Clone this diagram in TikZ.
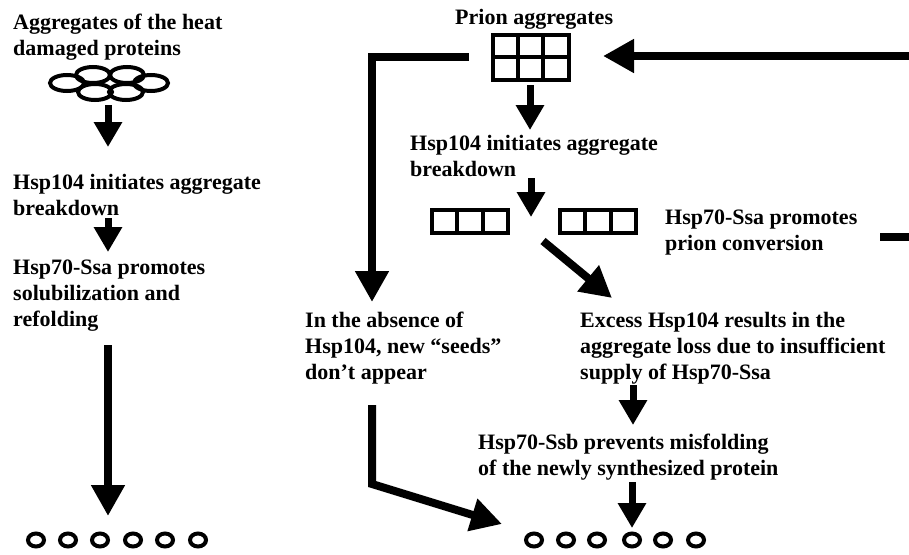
\documentclass[tikz,border=0pt]{standalone}
\usepackage{fontspec}
\setmainfont{Liberation Serif}
\usetikzlibrary{arrows.meta}

\begin{document}
\begin{tikzpicture}[x=1pt, y=-1pt,
    lbl/.style={anchor=north west, inner sep=0pt, align=left,
      font=\fontsize{22}{26}\selectfont\bfseries},
    flow/.style={-{Triangle[width=27pt,length=25pt]}, line width=7pt},
    bigflow/.style={-{Triangle[width=32pt,length=31pt]}, line width=8pt},
    part/.style={line width=4pt}]
    \useasboundingbox (0,0) rectangle (909,554);

    % left column: heat damaged proteins
    \node[lbl] (heatagg) at (13,14) {Aggregates of the heat\\damaged proteins};
    \node[lbl] (hsp104a) at (13,174) {Hsp104 initiates aggregate\\breakdown};
    \node[lbl] (ssafold) at (13,260) {Hsp70-Ssa promotes\\solubilization and\\refolding};

    \foreach \x/\y in {67/83, 93/75, 127/75, 151/83, 95/92, 126/92}
        \draw[part] (\x,\y) ellipse (17 and 8);
    \foreach \x in {36,68,100,133,165,198}
        \draw[part] (\x,540) ellipse (8 and 6.5);

    \coordinate (a1) at (108,105);  \coordinate (a2) at (108,147);
    \coordinate (b1) at (108,218);  \coordinate (b2) at (108,252);
    \coordinate (c1) at (108,345);  \coordinate (c2) at (108,516);
    \draw[flow] (a1) -- (a2);
    \draw[flow] (b1) -- (b2);
    \draw[bigflow] (c1) -- (c2);

    % right part: prion aggregates
    \node[lbl] (prionagg) at (455,9) {Prion aggregates};
    \node[lbl] (hsp104b) at (410,135) {Hsp104 initiates aggregate\\breakdown};
    \node[lbl] (ssaconv) at (665,210) {Hsp70-Ssa promotes\\prion conversion};
    \node[lbl] (noseeds) at (305,312) {In the absence of\\Hsp104, new ``seeds''\\don't appear};
    \node[lbl] (excess) at (580,312) {Excess Hsp104 results in the\\aggregate loss due to insufficient\\supply of Hsp70-Ssa};
    \node[lbl] (ssbfold) at (478,434) {Hsp70-Ssb prevents misfolding\\of the newly synthesized protein};

    % prion grid and fragments
    \draw[part] (493,35) rectangle (569,80);
    \draw[part] (518,35) -- (518,80) (543,35) -- (543,80) (493,57) -- (569,57);
    \foreach \x in {432,560} {
        \draw[part] (\x,210) rectangle (\x+76,233);
        \draw[part] (\x+25,210) -- (\x+25,233) (\x+51,210) -- (\x+51,233);
    }
    \foreach \x in {534,566,597,632,663,696}
        \draw[part] (\x,540) ellipse (8 and 6.5);

    \coordinate (d1) at (530,85);   \coordinate (d2) at (530,130);
    \coordinate (e1) at (531,178);  \coordinate (e2) at (531,217);
    \coordinate (f1) at (543,241);  \coordinate (f2) at (612,298);
    \coordinate (g1) at (633,385);  \coordinate (g2) at (633,425);
    \coordinate (h1) at (632,482);  \coordinate (h2) at (632,528);
    \coordinate (lstart) at (469,57);  \coordinate (lcorner) at (372,57);
    \coordinate (ltip) at (372,302);
    \coordinate (m1) at (372,405);  \coordinate (mcorner) at (372,484);
    \coordinate (m2) at (502,524);
    \coordinate (convout) at (880,237); \coordinate (toptip) at (603,56);

    \draw[flow] (d1) -- (d2);
    \draw[flow] (e1) -- (e2);
    \draw[bigflow] (f1) -- (f2);
    \draw[flow] (g1) -- (g2);
    \draw[flow] (h1) -- (h2);
    \draw[bigflow] (lstart) -- (lcorner) -- (ltip);
    \draw[bigflow] (m1) -- (mcorner) -- (m2);
    \draw[bigflow] (convout) -- (940,237) -- (940,56) -- (toptip);
\end{tikzpicture}
\end{document}
